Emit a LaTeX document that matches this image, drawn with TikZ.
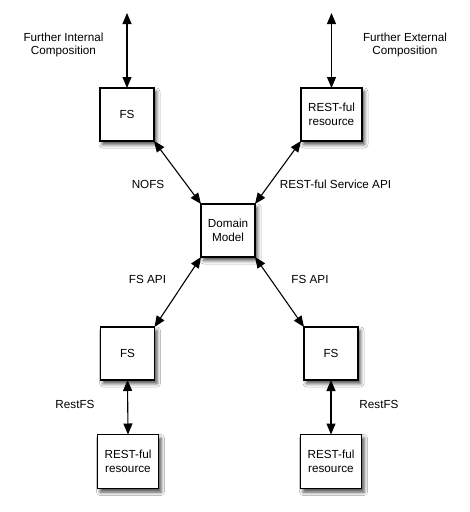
\documentclass[tikz,border=0pt]{standalone}
\usepackage{fontspec}
\setmainfont{Liberation Sans}
\usetikzlibrary{arrows.meta,shadows.blur}
\begin{document}
\begin{tikzpicture}[x=1pt,y=-1pt,
  box/.style={draw=black,line width=1.3pt,fill=white,inner sep=0pt,outer sep=0pt,
    minimum height=53pt,align=center,font=\fontsize{11.7}{14}\selectfont,
    blur shadow={shadow xshift=2.5pt,shadow yshift=-3.5pt,shadow blur radius=3.5pt,shadow opacity=70}},
  smallbox/.style={box,minimum width=54pt},
  widebox/.style={box,minimum width=61pt},
  lbl/.style={align=center,inner sep=0pt,font=\fontsize{11.7}{13.5}\selectfont},
  link/.style={line width=1.1pt,{Triangle[length=11pt,width=9pt]}-{Triangle[length=11pt,width=9pt]}}
]
\useasboundingbox (0,0) rectangle (470,512);
\fill[white] (0,0) rectangle (470,512);
% boxes
\node[smallbox] (fs1) at (127,114.5) {FS};
\node[widebox]  (r1)  at (331.5,114.5) {REST-ful\\resource};
\node[smallbox] (dm)  at (228,230.5) {Domain\\Model};
\node[smallbox] (fs2) at (127.5,353.5) {FS};
\node[smallbox] (fs3) at (331,353.5) {FS};
\node[widebox,minimum height=54pt] (r2) at (128,461.5) {REST-ful\\resource};
\node[widebox,minimum height=54pt] (r3) at (331,461.5) {REST-ful\\resource};
% free ends
\coordinate (t1) at (127,13);
\coordinate (t2) at (331.5,13);
% connectors
\draw[link] (t1) -- (fs1.north);
\draw[link] (t2) -- (r1.north);
\draw[link] (fs1.south east) -- (dm.north west);
\draw[link] (r1.south west) -- (dm.north east);
\draw[link] (dm.south west) -- (fs2.north east);
\draw[link] (dm.south east) -- (fs3.north west);
\draw[link] (fs2.south) -- (r2.north);
\draw[link] (fs3.south) -- (r3.north);
% labels
\node[lbl] (l1) at (63.5,45) {Further Internal\\Composition};
\node[lbl] (l2) at (405,45) {Further External\\Composition};
\node[lbl] (l3) at (148,184) {NOFS};
\node[lbl] (l4) at (335.5,184) {REST-ful Service API};
\node[lbl] (l5) at (147.5,279) {FS API};
\node[lbl] (l6) at (310,279) {FS API};
\node[lbl] (l7) at (75,404) {RestFS};
\node[lbl] (l8) at (379,404) {RestFS};
\end{tikzpicture}
\end{document}
